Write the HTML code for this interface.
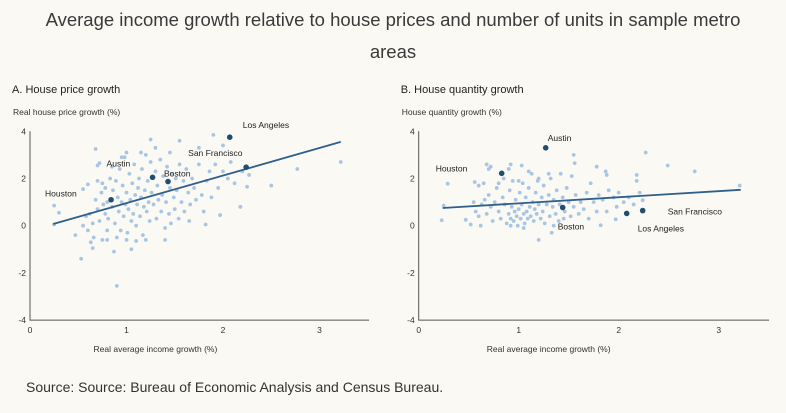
<!DOCTYPE html>
<html><head><meta charset="utf-8"><style>
body{margin:0;background:#fbf9f4;width:786px;height:413px;overflow:hidden;font-family:"Liberation Sans",sans-serif}
.t{position:absolute;left:0;width:786px;text-align:center;color:#3a3a3a;font-size:18.5px;line-height:32px;top:4px}
.src{position:absolute;left:26px;top:379px;font-size:14px;color:#333}
svg{position:absolute;left:0;top:0}
</style></head><body>
<div class="t">Average income growth relative to house prices and number of units in sample metro<br>areas</div>
<svg id="s" width="786" height="413"></svg>
<div class="src">Source: Source: Bureau of Economic Analysis and Census Bureau.</div>
<script>
const xTicks=[0,1,2,3];
const yTicks=[4,2,0,-2,-4];
const ptsA=[[0.25,0.05],[0.25,0.85],[0.3,0.55],[0.47,-0.4],[0.53,-1.4],[0.63,-0.7],[0.65,-0.95],[0.68,3.25],[0.7,2.55],[0.72,2.65],[0.9,-2.55],[0.87,-1.1],[1.25,3.65],[1.55,3.6],[1.9,3.85],[2.0,3.4],[1.97,0.45],[2.18,0.8],[2.25,1.65],[2.5,1.7],[2.77,2.4],[3.22,2.7],[2.27,2.15],[1.82,0.05],[1.75,3.3],[1.65,0.2],[1.05,-1.0],[1.1,-0.65],[0.55,1.55],[0.6,1.75],[0.75,1.8],[0.78,0.5],[0.8,-0.2],
[0.62,0.5],[0.65,0.1],[0.68,1.1],[0.7,0.7],[0.72,0.2],[0.74,1.4],[0.76,0.9],[0.78,1.6],[0.8,1.0],[0.81,0.3],[0.83,2.0],[0.85,0.8],[0.86,1.5],[0.88,0.1],[0.89,1.9],[0.9,-0.5],[0.91,1.2],[0.92,0.6],[0.93,2.4],[0.94,-0.2],[0.95,1.0],[0.96,1.7],[0.97,0.4],[0.98,2.9],[0.99,0.9],[1.0,1.4],[1.01,-0.3],[1.02,0.7],[1.03,2.2],[1.04,1.1],[1.05,0.2],[1.06,1.8],[1.07,0.5],[1.08,2.6],[1.09,1.3],[1.1,0.0],[1.11,0.9],[1.12,1.6],[1.13,2.0],[1.14,0.4],[1.15,1.2],[1.16,2.4],[1.17,-0.4],[1.18,0.8],[1.19,1.5],[1.2,3.0],[1.21,0.6],[1.22,1.9],[1.23,1.0],[1.24,0.2],[1.25,2.7],[1.26,1.4],[1.28,0.9],[1.3,2.3],[1.31,0.3],[1.32,1.7],[1.33,1.1],[1.35,2.8],[1.36,0.6],[1.37,1.3],[1.38,2.1],[1.4,-0.1],[1.41,1.0],[1.42,2.5],[1.44,0.5],[1.45,1.6],[1.46,0.1],[1.47,2.2],[1.49,1.2],[1.5,0.7],[1.51,2.0],[1.52,1.5],[1.54,0.3],[1.55,2.6],[1.57,1.0],[1.59,1.9],[1.6,0.6],[1.62,2.4],[1.64,1.4],[1.66,0.9],[1.68,2.0],[1.7,1.6],[1.72,1.1],[1.75,2.6],[1.78,1.3],[1.8,0.6],[1.83,1.9],[1.86,2.3],[1.88,1.2],[1.92,2.6],[1.95,1.6],[2.0,2.3],[2.05,2.0],[2.08,2.7],[2.12,1.8],[2.2,2.3],[0.55,0.0],[0.6,-0.2],[0.58,0.4],[0.66,-0.5],[0.7,1.9],[0.75,-0.6],[0.85,2.5],[0.95,2.9],[1.0,3.1],[1.15,3.1],[1.3,3.3],[1.45,3.1],[1.4,-0.6],[1.2,-0.6],[1.0,-0.6],[0.8,-0.6]];
const ptsB=[[0.23,0.23],[0.25,0.85],[0.29,1.78],[0.47,0.25],[0.52,0.05],[0.56,1.85],[0.6,1.7],[0.62,0],[0.68,2.6],[0.72,2.5],[0.92,2.6],[1.03,2.55],[1.2,-0.6],[1.33,-0.3],[1.55,3.0],[1.56,2.65],[1.78,2.5],[1.87,2.3],[1.88,2.15],[2.18,2.15],[2.18,1.9],[2.27,3.1],[2.49,2.55],[2.76,2.3],[3.21,1.7],[1.82,0.02],[1.97,0.27],[2.21,1.4],[2.24,1.08],
[0.6,0.4],[0.63,0.9],[0.66,1.1],[0.68,0.5],[0.7,1.3],[0.72,0.8],[0.74,0.2],[0.76,1.0],[0.78,1.6],[0.8,0.6],[0.82,0.3],[0.84,1.2],[0.86,0.9],[0.88,0.1],[0.9,0.5],[0.91,1.5],[0.92,0.3],[0.93,0.8],[0.94,1.9],[0.95,0.2],[0.96,0.6],[0.97,1.1],[0.98,0.4],[0.99,0.0],[1.0,0.7],[1.01,1.4],[1.02,0.3],[1.03,0.9],[1.04,1.8],[1.05,0.5],[1.06,0.1],[1.07,1.2],[1.08,0.6],[1.09,0.3],[1.1,1.6],[1.11,0.8],[1.12,0.4],[1.13,2.2],[1.14,1.0],[1.15,0.2],[1.16,0.7],[1.17,1.4],[1.18,0.5],[1.19,1.9],[1.2,0.9],[1.22,0.3],[1.23,1.2],[1.24,0.6],[1.25,1.7],[1.26,0.1],[1.28,0.9],[1.3,1.3],[1.31,0.4],[1.32,2.0],[1.34,0.8],[1.35,1.1],[1.37,0.5],[1.38,1.5],[1.4,0.2],[1.41,0.9],[1.42,2.2],[1.44,1.2],[1.46,0.6],[1.48,1.6],[1.5,1.0],[1.52,0.4],[1.53,2.1],[1.55,0.8],[1.57,1.3],[1.6,0.5],[1.62,1.0],[1.65,0.7],[1.68,1.4],[1.7,0.3],[1.72,1.8],[1.75,1.0],[1.78,0.6],[1.8,1.3],[1.84,1.1],[1.88,0.6],[1.9,1.5],[1.95,1.2],[1.98,0.8],[2.0,1.4],[2.05,1.0],[2.1,1.2],[2.15,0.9],[0.55,1.0],[0.57,0.6],[0.65,1.8],[0.7,2.4],[0.8,1.8],[0.85,2.0],[0.9,2.4],[1.0,1.9],[1.1,2.3],[1.2,2.0],[1.3,2.2],[1.45,0.3],[1.35,0.0],[1.05,-0.1],[0.92,0.0]];
const citiesA=[["Houston",0.84,1.1],["Austin",1.27,2.05],["Boston",1.43,1.87],["San Francisco",2.24,2.48],["Los Angeles",2.07,3.75]];
const citiesB=[["Houston",0.83,2.22],["Austin",1.27,3.3],["Boston",1.44,0.77],["Los Angeles",2.08,0.52],["San Francisco",2.24,0.64]];
const trendA=[[0.24,0.07],[3.22,3.55]];
const trendB=[[0.24,0.75],[3.22,1.52]];
const labA={"Houston":[-66,-3],"Austin":[-46,-11],"Boston":[-4,-5],"San Francisco":[-58,-11],"Los Angeles":[13,-9]};
const labB={"Houston":[-66,-2],"Austin":[2,-7],"Boston":[-5,22],"Los Angeles":[11,18],"San Francisco":[25,4]};
const s=document.getElementById('s');const NS='http://www.w3.org/2000/svg';
function el(t,a,p){const e=document.createElementNS(NS,t);for(const k in a)e.setAttribute(k,a[k]);(p||s).appendChild(e);return e;}
function panel(id,x0,x1,xEnd,title,ytitle,pts,cities,trend,lab){
 const g=el('g',{});
 
 
 const X=v=>x0+v*(x1-x0), Y=v=>225.7-v*23.6;
 const tt=el('text',{x:x0-18,y:93,'font-size':11,fill:'#222'},g);tt.textContent=title;
 
 const yt=el('text',{x:x0-17,y:115,'font-size':8.5,fill:'#333'},g);yt.textContent=ytitle;
 
 const xa=el('text',{x:X(1.3),y:352,'font-size':8.5,fill:'#333','text-anchor':'middle'},g);xa.textContent='Real average income growth (%)';
 
 const ax=el('path',{d:`M${x0},${Y(4)}V${Y(-4)}H${xEnd}`,stroke:'#555','stroke-width':1,fill:'none'},g);
 
 yTicks.forEach(v=>{const t=el('text',{x:x0-4,y:Y(v)+3,'font-size':8.5,fill:'#333','text-anchor':'end'},g);t.textContent=v;
  });
 xTicks.forEach(v=>{const t=el('text',{x:X(v),y:Y(-4)+13,'font-size':8.5,fill:'#333','text-anchor':'middle'},g);t.textContent=v;
  });
 pts.forEach(p=>{const c=el('circle',{cx:X(p[0]),cy:Y(p[1]),r:1.9,fill:'#a8c6e4'},g);
  });
 const l=el('line',{x1:X(trend[0][0]),y1:Y(trend[0][1]),x2:X(trend[1][0]),y2:Y(trend[1][1]),stroke:'#2f5f8a','stroke-width':1.8},g);
 
 cities.forEach(c=>{const d=el('circle',{cx:X(c[1]),cy:Y(c[2]),r:2.8,fill:'#1f4e6e'},g);
  
  const o=lab[c[0]];const t=el('text',{x:X(c[1])+o[0],y:Y(c[2])+o[1],'font-size':8.5,fill:'#222'},g);t.textContent=c[0];
  });
}
panel('panel-a',30,126.5,369,'A. House price growth','Real house price growth (%)',ptsA,citiesA,trendA,labA);
panel('panel-b',418.7,518.7,769,'B. House quantity growth','House quantity growth (%)',ptsB,citiesB,trendB,labB);
</script>
</body></html>
